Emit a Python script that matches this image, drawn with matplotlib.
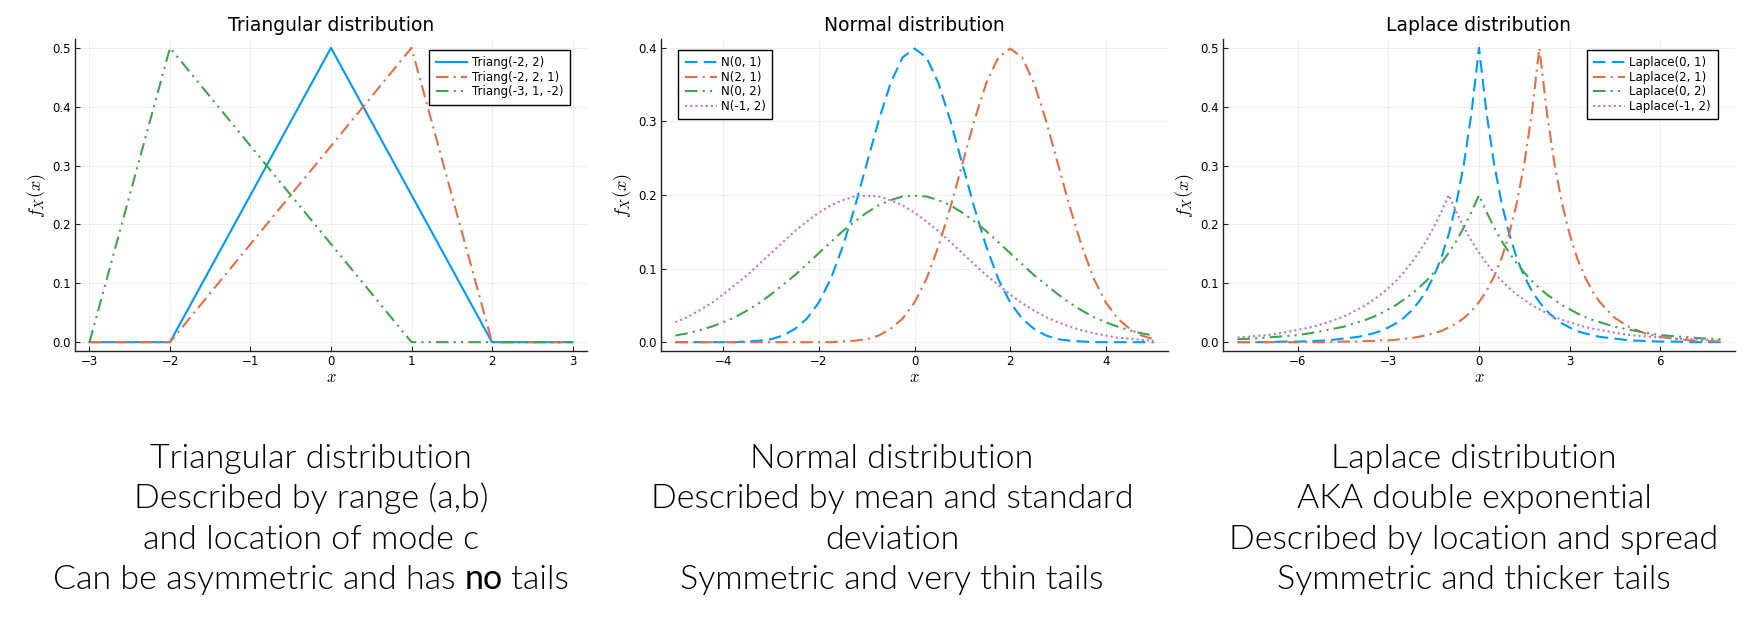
import matplotlib
matplotlib.use("Agg")
import matplotlib.pyplot as plt

plt.rcParams['font.family'] = ['DejaVu Sans']
plt.rcParams['mathtext.fontset'] = 'cm'

C_BLUE = "#009AFA"
C_ORANGE = "#E36F47"
C_GREEN = "#3EA44E"
C_PURPLE = "#C371D2"

# --- triangular panel (corner points)
tri_labels = ["Triang(-2, 2)", "Triang(-2, 2, 1)", "Triang(-3, 1, -2)"]
tri_x1 = [-3, -2, 0, 2, 3]
tri_y1 = [0, 0, 0.5, 0, 0]
tri_x2 = [-3, -2, 1, 2, 3]
tri_y2 = [0, 0, 0.5, 0, 0]
tri_x3 = [-3, -2, 1, 3]
tri_y3 = [0, 0.5, 0, 0]

# --- normal panel, x from -5 to 5 in steps of 0.25
norm_labels = ["N(0, 1)", "N(2, 1)", "N(0, 2)", "N(-1, 2)"]
norm_x = [-5, -4.75, -4.5, -4.25, -4, -3.75, -3.5, -3.25, -3, -2.75, -2.5, -2.25, -2,
          -1.75, -1.5, -1.25, -1, -0.75, -0.5, -0.25, 0, 0.25, 0.5, 0.75, 1, 1.25,
          1.5, 1.75, 2, 2.25, 2.5, 2.75, 3, 3.25, 3.5, 3.75, 4, 4.25, 4.5, 4.75, 5]
norm_01 = [0, 0, 0, 0, 0, 0, .001, .002, .004, .009, .018, .032, .054, .086, .130, .183,
           .242, .301, .352, .387, .399, .387, .352, .301, .242, .183, .130, .086, .054,
           .032, .018, .009, .004, .002, .001, 0, 0, 0, 0, 0, 0]
norm_21 = [0, 0, 0, 0, 0, 0, 0, 0, 0, 0, 0, 0, 0, 0, .001, .002, .004, .009, .018, .032,
           .054, .086, .130, .183, .242, .301, .352, .387, .399, .387, .352, .301, .242,
           .183, .130, .086, .054, .032, .018, .009, .004]
norm_02 = [.009, .012, .016, .021, .027, .034, .043, .053, .065, .078, .091, .106, .121,
           .136, .151, .164, .176, .186, .193, .198, .199, .198, .193, .186, .176, .164,
           .151, .136, .121, .106, .091, .078, .065, .053, .043, .034, .027, .021, .016,
           .012, .009]
norm_m12 = [.027, .034, .043, .053, .065, .078, .091, .106, .121, .136, .151, .164, .176,
            .186, .193, .198, .199, .198, .193, .186, .176, .164, .151, .136, .121, .106,
            .091, .078, .065, .053, .043, .034, .027, .021, .016, .012, .009, .006, .005,
            .003, .002]

# --- laplace panel, coarse tails and a finer step in the middle
lap_labels = ["Laplace(0, 1)", "Laplace(2, 1)", "Laplace(0, 2)", "Laplace(-1, 2)"]
lap_x = [-8, -7.5, -7, -6.5, -6, -5.5, -5, -4.5,
         -4, -3.75, -3.5, -3.25, -3, -2.75, -2.5, -2.25, -2, -1.75, -1.5, -1.25, -1,
         -0.75, -0.5, -0.25, 0, 0.25, 0.5, 0.75, 1, 1.25, 1.5, 1.75, 2, 2.25, 2.5, 2.75,
         3, 3.25, 3.5, 3.75, 4,
         4.5, 5, 5.5, 6, 6.5, 7, 7.5, 8]
lap_01 = [0, 0, 0, .001, .001, .002, .003, .006,
          .009, .012, .015, .019, .025, .032, .041, .053, .068, .087, .112, .143, .184,
          .236, .303, .389, .5, .389, .303, .236, .184, .143, .112, .087, .068, .053, .041,
          .032, .025, .019, .015, .012, .009,
          .006, .003, .002, .001, .001, 0, 0, 0]
lap_21 = [0, 0, 0, 0, 0, 0, 0, .001,
          .001, .002, .002, .003, .003, .004, .006, .007, .009, .012, .015, .019, .025,
          .032, .041, .053, .068, .087, .112, .143, .184, .236, .303, .389, .5, .389, .303,
          .236, .184, .143, .112, .087, .068,
          .041, .025, .015, .009, .006, .003, .002, .001]
lap_02 = [.005, .006, .008, .010, .012, .016, .021, .026,
          .034, .038, .043, .049, .056, .063, .072, .081, .092, .104, .118, .134, .152,
          .172, .195, .221, .25, .221, .195, .172, .152, .134, .118, .104, .092, .081, .072,
          .063, .056, .049, .043, .038, .034,
          .026, .021, .016, .012, .010, .008, .006, .005]
lap_m12 = [.008, .010, .012, .016, .021, .026, .034, .043,
           .056, .063, .072, .081, .092, .104, .118, .134, .152, .172, .195, .221, .25,
           .221, .195, .172, .152, .134, .118, .104, .092, .081, .072, .063, .056, .049, .043,
           .038, .034, .030, .026, .023, .021,
           .016, .012, .010, .008, .006, .005, .004, .003]

captions = [
    ["Triangular distribution", "Described by range (a,b)", "and location of mode c",
     ["Can be asymmetric and has ", "no", " tails"]],
    ["Normal distribution", "Described by mean and standard", "deviation",
     "Symmetric and very thin tails"],
    ["Laplace distribution", "AKA double exponential", "Described by location and spread",
     "Symmetric and thicker tails"],
]

SOLID = None
DASH = (6, 3)
DASHDOT = (6, 2.5, 1, 2.5)
DASHDOTDOT = (6, 2.5, 1, 2.5, 1, 2.5)
DOT = (1, 1.5)

W, H = 1761, 622
fig = plt.figure(figsize=(W / 100, H / 100), dpi=100)


def make_ax(left_px, right_px):
    top_px, bot_px = 39, 351
    ax = fig.add_axes([left_px / W, 1 - bot_px / H, (right_px - left_px) / W, (bot_px - top_px) / H])
    for s in ["top", "right"]:
        ax.spines[s].set_visible(False)
    for s in ["left", "bottom"]:
        ax.spines[s].set_linewidth(1.0)
        ax.spines[s].set_color("#222222")
    ax.grid(True, color="black", alpha=0.08, linewidth=0.6)
    ax.tick_params(direction="in", length=3.5, width=0.8, labelsize=8.5, pad=3, colors="#222222",
                   labelcolor="black")
    ax.set_xlabel("$x$", fontsize=12, labelpad=0)
    ax.set_ylabel("$f_X(x)$", fontsize=13, labelpad=3)
    return ax


def line(ax, x, y, color, dashes, label):
    ln, = ax.plot(x, y, color=color, lw=1.5, label=label)
    if dashes is not None:
        ln.set_dashes(dashes)
    return ln


def legend(ax, loc, anchor):
    leg = ax.legend(loc=loc, bbox_to_anchor=anchor, borderaxespad=0, fontsize=8.5, fancybox=False,
                    framealpha=1, edgecolor="black", handlelength=2.7, labelspacing=0.12,
                    borderpad=0.55, handletextpad=0.35)
    leg.get_frame().set_linewidth(1.0)


# triangular
ax1 = make_ax(75, 587)
line(ax1, tri_x1, tri_y1, C_BLUE, SOLID, tri_labels[0])
line(ax1, tri_x2, tri_y2, C_ORANGE, DASHDOT, tri_labels[1])
line(ax1, tri_x3, tri_y3, C_GREEN, DASHDOTDOT, tri_labels[2])
ax1.set_xlim(-3.18, 3.18)
ax1.set_ylim(-0.015, 0.515)
ax1.set_xticks([-3, -2, -1, 0, 1, 2, 3])
ax1.set_yticks([0, 0.1, 0.2, 0.3, 0.4, 0.5])
ax1.set_yticklabels(["0.0", "0.1", "0.2", "0.3", "0.4", "0.5"])
ax1.set_title("Triangular distribution", fontsize=13.5, pad=6)
legend(ax1, "upper right", (0.966, 0.965))

# normal
ax2 = make_ax(661, 1168)
line(ax2, norm_x, norm_01, C_BLUE, DASH, norm_labels[0])
line(ax2, norm_x, norm_21, C_ORANGE, DASHDOT, norm_labels[1])
line(ax2, norm_x, norm_02, C_GREEN, DASHDOTDOT, norm_labels[2])
line(ax2, norm_x, norm_m12, C_PURPLE, DOT, norm_labels[3])
ax2.set_xlim(-5.3, 5.3)
ax2.set_ylim(-0.012, 0.412)
ax2.set_xticks([-4, -2, 0, 2, 4])
ax2.set_yticks([0, 0.1, 0.2, 0.3, 0.4])
ax2.set_yticklabels(["0.0", "0.1", "0.2", "0.3", "0.4"])
ax2.set_title("Normal distribution", fontsize=13.5, pad=6)
legend(ax2, "upper left", (0.034, 0.965))

# laplace
ax3 = make_ax(1223, 1735)
line(ax3, lap_x, lap_01, C_BLUE, DASH, lap_labels[0])
line(ax3, lap_x, lap_21, C_ORANGE, DASHDOT, lap_labels[1])
line(ax3, lap_x, lap_02, C_GREEN, DASHDOTDOT, lap_labels[2])
line(ax3, lap_x, lap_m12, C_PURPLE, DOT, lap_labels[3])
ax3.set_xlim(-8.48, 8.48)
ax3.set_ylim(-0.015, 0.515)
ax3.set_xticks([-6, -3, 0, 3, 6])
ax3.set_yticks([0, 0.1, 0.2, 0.3, 0.4, 0.5])
ax3.set_yticklabels(["0.0", "0.1", "0.2", "0.3", "0.4", "0.5"])
ax3.set_title("Laplace distribution", fontsize=13.5, pad=6)
legend(ax3, "upper right", (0.966, 0.965))

# captions under the panels (Lato Light, with a regular "no")
cap_font = dict(family="Lato", fontsize=24.5)
centers = [311, 892, 1474]
baselines = [468, 508, 549, 589]
renderer = fig.canvas.get_renderer()
for cx, lines in zip(centers, captions):
    for by, txt in zip(baselines, lines):
        if isinstance(txt, str):
            fig.text(cx / W, 1 - by / H, txt, ha="center", va="baseline", weight=300, **cap_font)
        else:
            parts = []
            total = 0
            for i, piece in enumerate(txt):
                t = fig.text(0, 1 - by / H, piece, ha="left", va="baseline",
                             weight=400 if i == 1 else 300, **cap_font)
                w = t.get_window_extent(renderer).width
                parts.append((t, w))
                total += w
            x0 = cx - total / 2
            for t, w in parts:
                t.set_x(x0 / W)
                x0 += w

fig.savefig("out.png", dpi=100)
